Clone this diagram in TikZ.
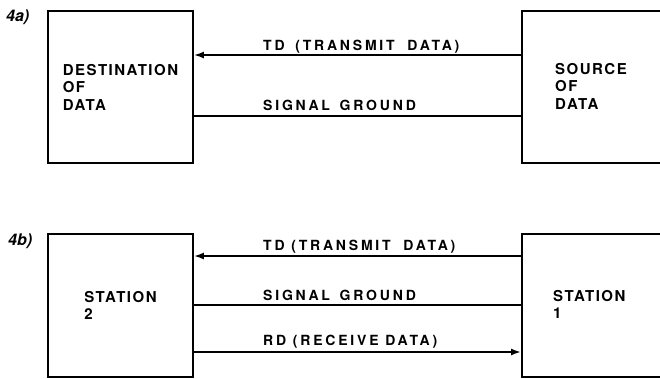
\documentclass[tikz,border=0pt]{standalone}
\usepackage{fontspec}
\newfontfamily\boxfont[LetterSpace=10]{TeX Gyre Heros}
\newfontfamily\labfont[LetterSpace=20]{TeX Gyre Heros}
\newfontfamily\figfont{TeX Gyre Heros}
\usetikzlibrary{arrows.meta}
\begin{document}
\begin{tikzpicture}[x=1pt,y=-1pt,
  box/.style={draw, line width=1.9pt, inner sep=0pt, anchor=north west, align=left,
    font=\boxfont\bfseries\fontsize{15}{17.5}\selectfont},
  boxtext/.style={inner sep=0pt, anchor=north west, align=left,
    font=\boxfont\bfseries\fontsize{15}{17.5}\selectfont},
  lab/.style={inner sep=0pt, anchor=base west, font=\labfont\bfseries\fontsize{14}{16}\selectfont},
  fig/.style={inner sep=0pt, anchor=base west, font=\figfont\bfseries\itshape\fontsize{16}{18}\selectfont},
  wire/.style={line width=1.8pt},
  tip/.style={-{Latex[length=10pt,width=7pt]}}]
\useasboundingbox (0,0) rectangle (660,378);
\clip (0,0) rectangle (660,378);
% ---- 4a
\node[fig] (fa) at (6,21) {4a)};
\node[box, minimum width=145pt, minimum height=152pt] (dst) at (47,10) {DESTINATION\\OF\\DATA};
\node[box, minimum width=200pt, minimum height=152pt] (src) at (521,10) {};
\node[boxtext] (srct) at (555,63) {SOURCE\\OF\\DATA};
\draw[wire, tip] (src.west |- 0,55) -- (dst.east |- 0,55);
\draw[wire] (src.west |- 0,116) -- (dst.east |- 0,116);
\node[lab] (l1) at (263,50) {TD\hspace{4pt} (TRANSMIT\hspace{6pt} DATA)};
\node[lab] (l2) at (263,110) {SIGNAL\hspace{3pt} GROUND};
% ---- 4b
\node[fig] (fb) at (8,245) {4b)};
\node[box, minimum width=145pt, minimum height=143pt] (st2) at (47,233) {STATION\\2};
\node[box, minimum width=200pt, minimum height=143pt] (st1) at (521,233) {};
\node[boxtext] (st1t) at (553,290) {STATION\\1};
\draw[wire, tip] (st1.west |- 0,256) -- (st2.east |- 0,256);
\draw[wire] (st1.west |- 0,305) -- (st2.east |- 0,305);
\draw[wire, tip] (st2.east |- 0,352) -- (st1.west |- 0,352);
\node[lab] (l3) at (263,250) {TD (TRANSMIT\hspace{6pt} DATA)};
\node[lab] (l4) at (263,300) {SIGNAL\hspace{3pt} GROUND};
\node[lab] (l5) at (263,345) {RD (RECEIVE DATA)};
\end{tikzpicture}
\end{document}
